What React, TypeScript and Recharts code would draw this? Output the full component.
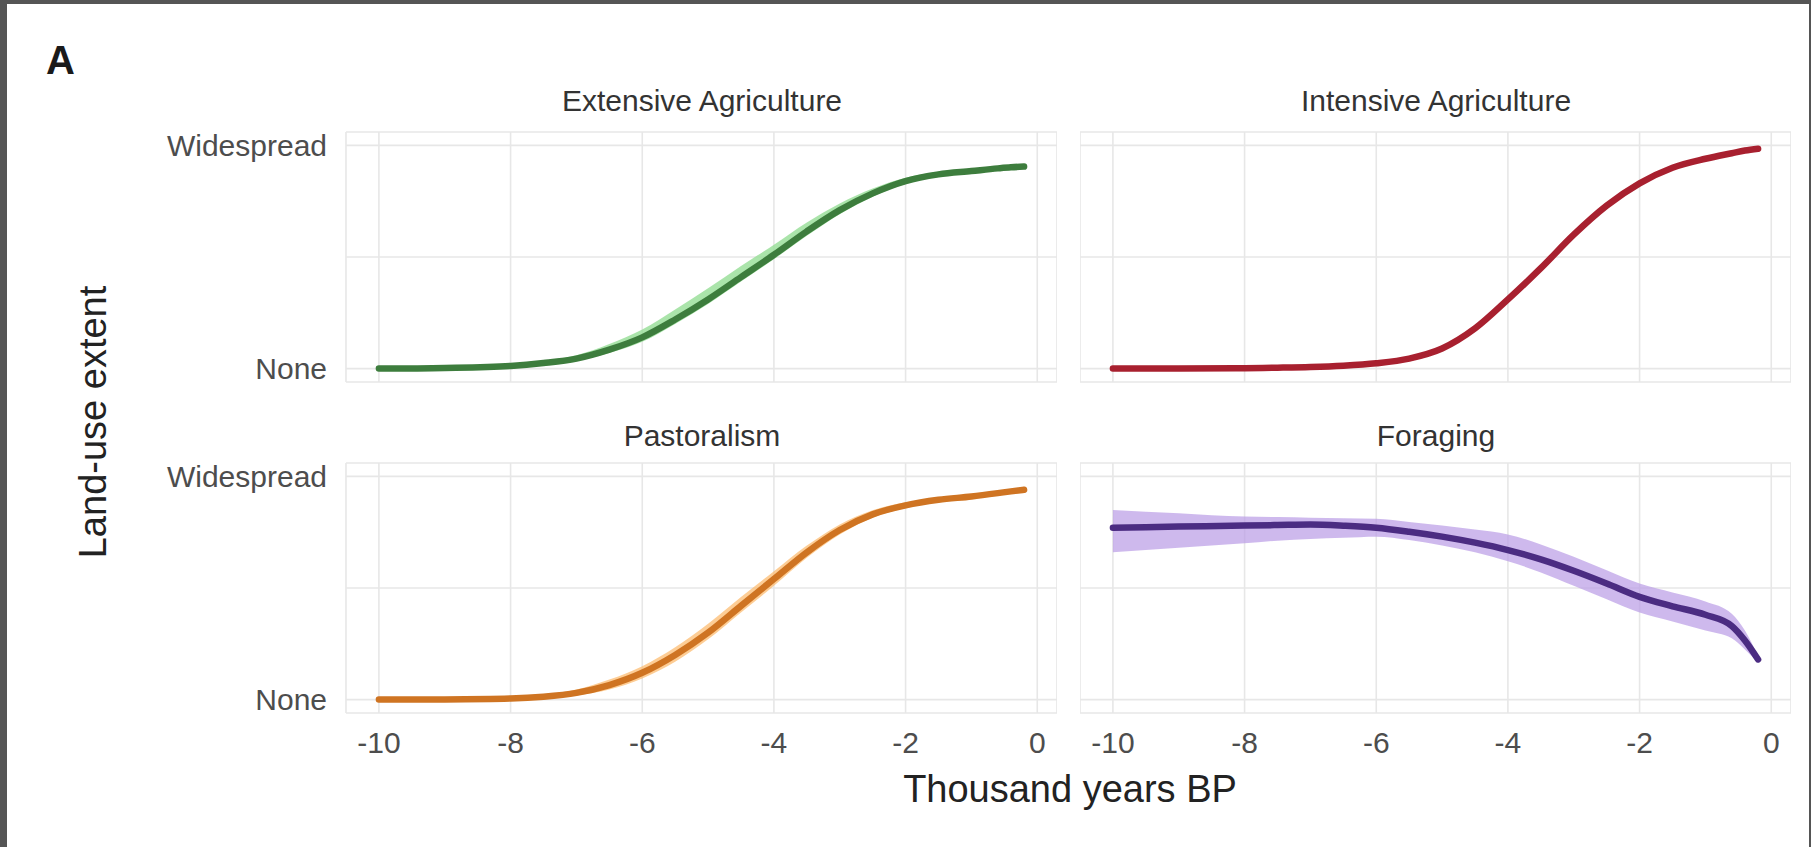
import React from "react";
import { ComposedChart, Line, Area, XAxis, YAxis, CartesianGrid } from "recharts";

// Thousand years BP (x positions of the estimates)
const YEARS = [-10, -9, -8, -7.5, -7, -6.5, -6, -5.5, -5, -4.5, -4, -3.5, -3, -2.5, -2, -1.5, -1, -0.6, -0.4, -0.2];

const X_TICKS = [-10, -8, -6, -4, -2, 0];
const Y_TICKS = [0, 0.5, 1];
const Y_TICK_LABELS: Record<string, string> = { "0": "None", "0.5": "", "1": "Widespread" };

const PANEL_TITLES = ["Extensive Agriculture", "Intensive Agriculture", "Pastoralism", "Foraging"];
const X_TITLE = "Thousand years BP";
const Y_TITLE = "Land-use extent";

const extensiveMid = [0, 0.003, 0.012, 0.025, 0.045, 0.085, 0.14, 0.22, 0.31, 0.41, 0.51, 0.615, 0.71, 0.785, 0.84, 0.87, 0.885, 0.897, 0.902, 0.905];
const extensiveLo = [-0.004, -0.001, 0.006, 0.017, 0.035, 0.07, 0.12, 0.2, 0.29, 0.39, 0.49, 0.595, 0.692, 0.77, 0.828, 0.86, 0.877, 0.889, 0.894, 0.897];
const extensiveHi = [0.004, 0.007, 0.018, 0.035, 0.06, 0.11, 0.175, 0.265, 0.36, 0.46, 0.555, 0.655, 0.74, 0.807, 0.855, 0.882, 0.895, 0.905, 0.91, 0.913];

const intensiveMid = [0, 0, 0.002, 0.004, 0.007, 0.013, 0.024, 0.045, 0.09, 0.18, 0.31, 0.45, 0.6, 0.73, 0.83, 0.9, 0.94, 0.965, 0.977, 0.985];
const intensiveLo = [-0.004, -0.004, -0.002, 0, 0.003, 0.008, 0.018, 0.037, 0.08, 0.168, 0.298, 0.438, 0.588, 0.72, 0.822, 0.894, 0.935, 0.96, 0.972, 0.98];
const intensiveHi = [0.004, 0.004, 0.006, 0.008, 0.011, 0.018, 0.03, 0.053, 0.1, 0.192, 0.322, 0.462, 0.612, 0.74, 0.838, 0.906, 0.945, 0.97, 0.982, 0.99];

const pastoralMid = [0, 0.001, 0.005, 0.013, 0.03, 0.065, 0.12, 0.2, 0.3, 0.42, 0.54, 0.66, 0.76, 0.83, 0.87, 0.895, 0.91, 0.925, 0.933, 0.94];
const pastoralLo = [-0.004, -0.003, 0, 0.006, 0.018, 0.045, 0.095, 0.17, 0.27, 0.39, 0.51, 0.635, 0.74, 0.815, 0.858, 0.885, 0.9, 0.915, 0.923, 0.93];
const pastoralHi = [0.004, 0.005, 0.01, 0.022, 0.045, 0.09, 0.15, 0.235, 0.34, 0.46, 0.575, 0.69, 0.785, 0.848, 0.884, 0.906, 0.92, 0.935, 0.943, 0.95];

const foragingMid = [0.77, 0.775, 0.78, 0.782, 0.784, 0.779, 0.77, 0.752, 0.73, 0.703, 0.67, 0.628, 0.577, 0.52, 0.46, 0.418, 0.38, 0.33, 0.265, 0.18];
const foragingLo = [0.66, 0.68, 0.7, 0.712, 0.72, 0.725, 0.73, 0.715, 0.69, 0.66, 0.62, 0.57, 0.51, 0.45, 0.39, 0.35, 0.31, 0.275, 0.225, 0.165];
const foragingHi = [0.85, 0.835, 0.82, 0.818, 0.815, 0.813, 0.81, 0.796, 0.78, 0.762, 0.74, 0.695, 0.64, 0.58, 0.52, 0.48, 0.44, 0.385, 0.31, 0.195];

const build = (mid: number[], lo: number[], hi: number[]) =>
  YEARS.map((x, i) => ({ x, mid: mid[i], band: [lo[i], hi[i]] }));

const X_DOMAIN: [number, number] = [-10.5, 0.3];
const Y_DOMAIN: [number, number] = [-0.06, 1.06];

const FONT = '"Liberation Sans", Arial, Helvetica, sans-serif';
const GRID = "#e7e7e7";

const YTick = (props: any) => {
  const { x, y, payload } = props;
  const label = Y_TICK_LABELS[String(payload.value)] ?? "";
  if (!label) return null;
  return (
    <text x={x} y={y} dy="0.355em" textAnchor="end" fill="#4d4d4d" fontSize={30} fontFamily={FONT}>
      {label}
    </text>
  );
};

const XTick = (props: any) => {
  const { x, y, payload } = props;
  return (
    <text x={x} y={y} dy="0.71em" textAnchor="middle" fill="#4d4d4d" fontSize={30} fontFamily={FONT}>
      {String(payload.value)}
    </text>
  );
};

type PanelProps = {
  data: any[];
  line: string;
  band: string;
  bandOpacity: number;
  left: number;
  top: number;
  showY: boolean;
  showX: boolean;
};

const PAD = 30;

function Panel({ data, line, band, bandOpacity, left, top, showY, showX }: PanelProps) {
  const yW = 240;
  const plotW = 711;
  const plotH = 250;
  const xH = 70;
  const width = (showY ? yW : 0) + plotW;
  const height = PAD + plotH + (showX ? xH : PAD);
  return (
    <div style={{ position: "absolute", left: showY ? left - yW : left, top: top - PAD }}>
      <ComposedChart
        width={width}
        height={height}
        data={data}
        margin={{ top: PAD, right: 0, bottom: showX ? 0 : PAD, left: 0 }}
      >
        <CartesianGrid stroke={GRID} strokeWidth={1.6} />
        <XAxis
          dataKey="x"
          type="number"
          domain={X_DOMAIN}
          ticks={X_TICKS}
          allowDataOverflow
          hide={!showX}
          height={xH}
          axisLine={false}
          tickLine={false}
          tickSize={0}
          tickMargin={19}
          tick={<XTick />}
          interval={0}
        />
        <YAxis
          type="number"
          domain={Y_DOMAIN}
          ticks={Y_TICKS}
          allowDataOverflow
          hide={!showY}
          width={yW}
          axisLine={false}
          tickLine={false}
          tickSize={0}
          tickMargin={19}
          interval={0}
          tick={<YTick />}
        />
        <Area
          type="monotone"
          dataKey="band"
          stroke="none"
          fill={band}
          fillOpacity={bandOpacity}
          isAnimationActive={false}
          activeDot={false}
        />
        <Line
          type="monotone"
          dataKey="mid"
          stroke={line}
          strokeWidth={6.5}
          dot={false}
          activeDot={false}
          strokeLinecap="round"
          isAnimationActive={false}
        />
      </ComposedChart>
    </div>
  );
}

export default function App() {
  const extensive = build(extensiveMid, extensiveLo, extensiveHi);
  const intensive = build(intensiveMid, intensiveLo, intensiveHi);
  const pastoral = build(pastoralMid, pastoralLo, pastoralHi);
  const foraging = build(foragingMid, foragingLo, foragingHi);

  return (
    <div style={{ position: "absolute", left: 0, top: 0, width: 1811, height: 847, background: "#555555", overflow: "hidden" }}>
      <div style={{ position: "absolute", left: 7, top: 4, width: 1802, height: 843, background: "#ffffff" }} />
      <Panel data={extensive} line="#3d7d3d" band="#95dd95" bandOpacity={0.8} left={346} top={132} showY showX={false} />
      <Panel data={intensive} line="#a8202f" band="#ef8a96" bandOpacity={0.55} left={1080} top={132} showY={false} showX={false} />
      <Panel data={pastoral} line="#cf7422" band="#fcb868" bandOpacity={0.7} left={346} top={463} showY showX />
      <Panel data={foraging} line="#4b2c82" band="#b99be6" bandOpacity={0.7} left={1080} top={463} showY={false} showX />
      <svg width={1811} height={847} style={{ position: "absolute", left: 0, top: 0, pointerEvents: "none" }}>
        <text x={46} y={74} fontFamily={FONT} fontWeight="bold" fontSize={40} fill="#1a1a1a">A</text>
        <text x={702} y={111} textAnchor="middle" fontFamily={FONT} fontSize={30} fill="#333333">{PANEL_TITLES[0]}</text>
        <text x={1436} y={111} textAnchor="middle" fontFamily={FONT} fontSize={30} fill="#333333">{PANEL_TITLES[1]}</text>
        <text x={702} y={446} textAnchor="middle" fontFamily={FONT} fontSize={30} fill="#333333">{PANEL_TITLES[2]}</text>
        <text x={1436} y={446} textAnchor="middle" fontFamily={FONT} fontSize={30} fill="#333333">{PANEL_TITLES[3]}</text>
        <text x={1070} y={802} textAnchor="middle" fontFamily={FONT} fontSize={38} fill="#222222">{X_TITLE}</text>
        <text x={106} y={422} textAnchor="middle" fontFamily={FONT} fontSize={38} fill="#222222" transform="rotate(-90 106 422)">{Y_TITLE}</text>
      </svg>
    </div>
  );
}
